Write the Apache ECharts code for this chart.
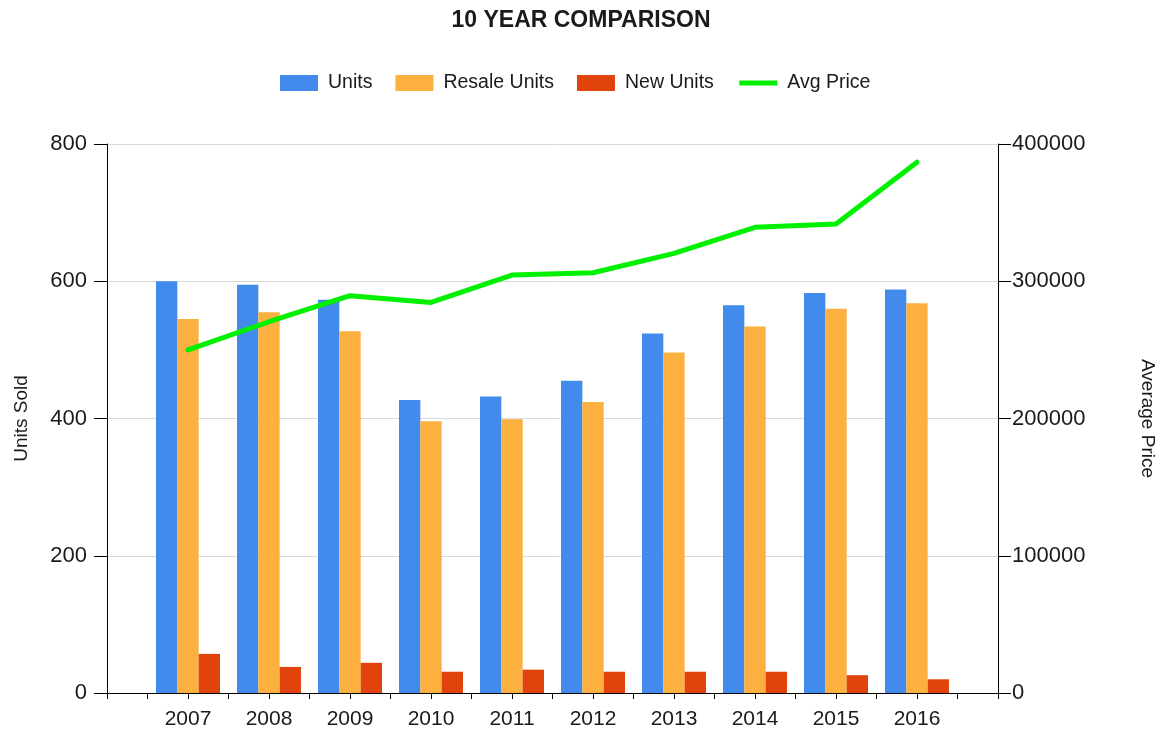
<!DOCTYPE html>
<html>
<head>
<meta charset="utf-8">
<script src="https://cdn.jsdelivr.net/npm/echarts@6/dist/echarts.min.js"></script>
<style>
html,body{margin:0;padding:0;background:#fff;}
#chart{width:1162px;height:731px;}
</style>
</head>
<body>
<div id="chart"></div>
<script>
var years = ['2007','2008','2009','2010','2011','2012','2013','2014','2015','2016'];
var units = [600, 595, 573, 427, 432, 455, 524, 565, 583, 588];
var resaleUnits = [545, 555, 527, 396, 399, 424, 496, 534, 560, 568];
var newUnits = [57, 38, 44, 31, 34, 31, 31, 31, 26, 20];
var avgPrice = [250000, 270500, 289500, 284600, 304500, 306200, 320300, 339300, 341700, 386700];
var leftTicks = [0, 200, 400, 600, 800];
var rightTicks = [0, 100000, 200000, 300000, 400000];

function pad(arr){ return [null].concat(arr, [null]); }
var cats = [''].concat(years, ['']);
var halfSlots = [];
for (var i = 0; i < (years.length + 1) * 2; i++) halfSlots.push('h' + i);
var FONT = '"Liberation Sans", Arial, sans-serif';

var chart = echarts.init(document.getElementById('chart'), null, {renderer:'canvas'});
chart.setOption({
  animation: false,
  backgroundColor: '#ffffff',
  textStyle: {fontFamily: FONT},
  title: {
    text: '10 YEAR COMPARISON',
    left: 'center',
    top: 4,
    textStyle: {fontFamily: FONT, fontSize: 23, fontWeight: 'bold', color: '#1a1a1a'}
  },
  legend: {
    left: 275,
    top: 68,
    itemWidth: 38,
    itemHeight: 16,
    itemGap: 23,
    textStyle: {fontFamily: FONT, fontSize: 19.5, color: '#1a1a1a', padding: [0,0,0,5]},
    data: [
      {name: 'Units', icon: 'rect'},
      {name: 'Resale Units', icon: 'rect'},
      {name: 'New Units', icon: 'rect'},
      {name: 'Avg Price', itemStyle: {color: 'rgba(0,0,0,0)', borderWidth: 0, opacity: 0},
        lineStyle: {width: 5, color: '#00f000', cap: 'butt'}}
    ]
  },
  grid: {left: 107, right: 164, top: 144, bottom: 38, containLabel: false, outerBoundsMode: 'none'},
  xAxis: [
    {
      type: 'category',
      data: cats,
      boundaryGap: false,
      axisLine: {show: true, lineStyle: {color: '#000', width: 1}},
      axisTick: {show: false},
      axisLabel: {show: true, fontFamily: FONT, fontSize: 21, color: '#1a1a1a', margin: 16, interval: 0},
      splitLine: {show: false}
    },
    {
      type: 'category',
      data: halfSlots,
      boundaryGap: true,
      position: 'bottom',
      zlevel: 1,
      z: 20,
      axisLine: {show: false},
      axisTick: {show: true, interval: 0, length: 6, lineStyle: {color: '#000'}},
      axisLabel: {show: false},
      splitLine: {show: false}
    }
  ],
  yAxis: [
    {
      type: 'value',
      min: leftTicks[0],
      max: leftTicks[leftTicks.length-1],
      interval: 200,
      name: 'Units Sold',
      nameLocation: 'middle',
      nameGap: 76,
      nameRotate: 90,
      nameTextStyle: {fontFamily: FONT, fontSize: 19, color: '#1a1a1a'},
      axisLine: {show: true, lineStyle: {color: '#000'}},
      axisTick: {show: true, length: 13, lineStyle: {color: '#000'}},
      axisLabel: {fontFamily: FONT, fontSize: 22, color: '#1a1a1a', margin: 20},
      splitLine: {show: true, lineStyle: {color: '#d9d9d9', width: 1}}
    },
    {
      type: 'value',
      min: rightTicks[0],
      max: rightTicks[rightTicks.length-1],
      interval: 100000,
      name: 'Average Price',
      nameLocation: 'middle',
      nameGap: 140,
      nameRotate: -90,
      nameTextStyle: {fontFamily: FONT, fontSize: 19, color: '#1a1a1a'},
      axisLine: {show: true, lineStyle: {color: '#000'}},
      axisTick: {show: true, length: 13, lineStyle: {color: '#000'}},
      axisLabel: {fontFamily: FONT, fontSize: 22, color: '#1a1a1a', margin: 14,
        formatter: function(v){ return String(v); }},
      splitLine: {show: false}
    }
  ],
  series: [
    {
      name: 'Units', type: 'bar', xAxisIndex: 0, yAxisIndex: 0,
      data: pad(units), barGap: '0%', barCategoryGap: '21%',
      itemStyle: {color: '#428bed'}
    },
    {
      name: 'Resale Units', type: 'bar', xAxisIndex: 0, yAxisIndex: 0,
      data: pad(resaleUnits), barGap: '0%', barCategoryGap: '21%',
      itemStyle: {color: '#fbb040'}
    },
    {
      name: 'New Units', type: 'bar', xAxisIndex: 0, yAxisIndex: 0,
      data: pad(newUnits), barGap: '0%', barCategoryGap: '21%',
      itemStyle: {color: '#e0430c'}
    },
    {
      name: 'Avg Price', type: 'line', xAxisIndex: 0, yAxisIndex: 1,
      data: pad(avgPrice), symbol: 'none', connectNulls: false,
      lineStyle: {color: '#00f000', width: 5, cap: 'round', join: 'round'},
      itemStyle: {color: '#00f000'}
    }
  ]
});
</script>
</body>
</html>
